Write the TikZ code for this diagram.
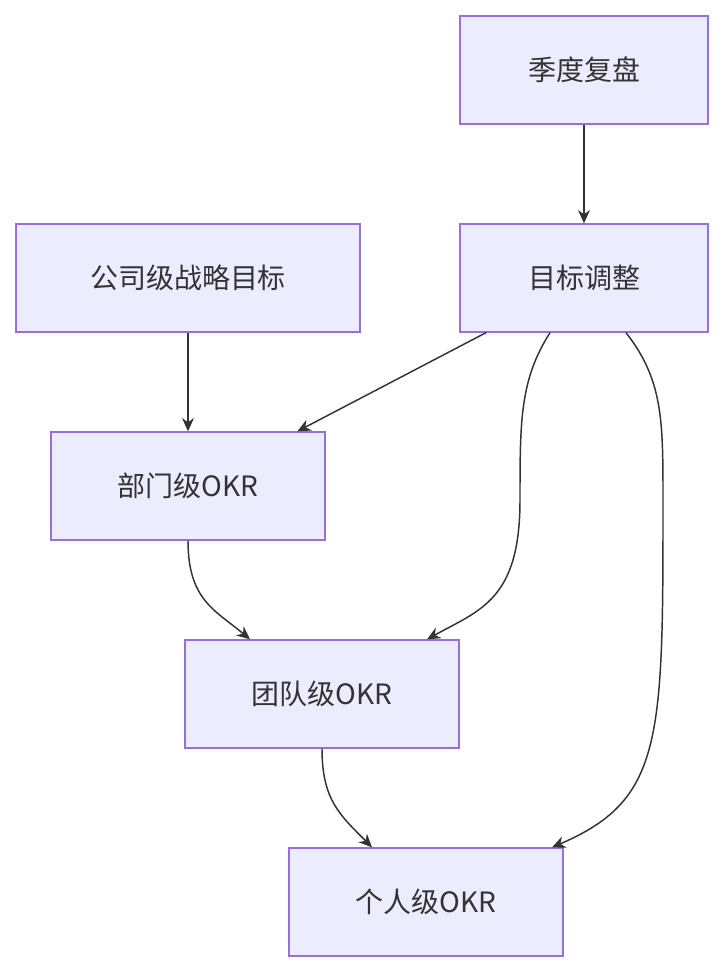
\documentclass[tikz,border=0pt]{standalone}
\usepackage{fontspec}
\newfontfamily\cjk{Noto Sans CJK SC}
\usetikzlibrary{positioning,arrows.meta}
\definecolor{boxfill}{HTML}{ECECFF}
\definecolor{boxline}{HTML}{9370DB}
\definecolor{inkgray}{HTML}{333333}
\tikzset{
  okrbox/.style={draw=boxline, fill=boxfill, line width=1pt, minimum height=81pt,
    inner sep=0pt, font=\cjk\fontsize{21}{25}\selectfont, text=inkgray},
  flow/.style={draw=inkgray, line width=1.1pt, -{Stealth[length=10pt,width=9pt]}}
}
\begin{document}
\begin{tikzpicture}[x=0.75pt, y=-0.75pt]
  \useasboundingbox (0,0) rectangle (724,972);

  \node[okrbox, minimum width=186pt] (review) at (584,70) {季度复盘};
  \node[okrbox, minimum width=186pt] (adjust) at (584,278) {目标调整};
  \node[okrbox, minimum width=258pt] (company) at (188,278) {公司级战略目标};
  \node[okrbox, minimum width=205.5pt] (dept) at (188,486) {部门级OKR};
  \node[okrbox, minimum width=205.5pt] (team) at (322,694) {团队级OKR};
  \node[okrbox, minimum width=205.5pt] (person) at (426,902) {个人级OKR};

  \draw[flow] (review) -- (adjust);
  \draw[flow] (company) -- (dept);
  \draw[flow] ([xshift=-73.5pt]adjust.south) -- ([xshift=82pt]dept.north);
  \draw[flow] ([xshift=-25.5pt]adjust.south) .. controls (520,380) and (520,420) .. (520,500)
    .. controls (520,600) and (480,610) .. ([xshift=78.75pt]team.north);
  \draw[flow] ([xshift=31.5pt]adjust.south) .. controls (663,380) and (663,420) .. (663,500)
    .. controls (663,740) and (663,800) .. ([xshift=94.5pt]person.north);
  \draw[flow] (dept.south) .. controls (188,600) and (215,610) .. ([xshift=-54pt]team.north);
  \draw[flow] (team.south) .. controls (322,800) and (340,815) .. ([xshift=-40.5pt]person.north);
\end{tikzpicture}
\end{document}
